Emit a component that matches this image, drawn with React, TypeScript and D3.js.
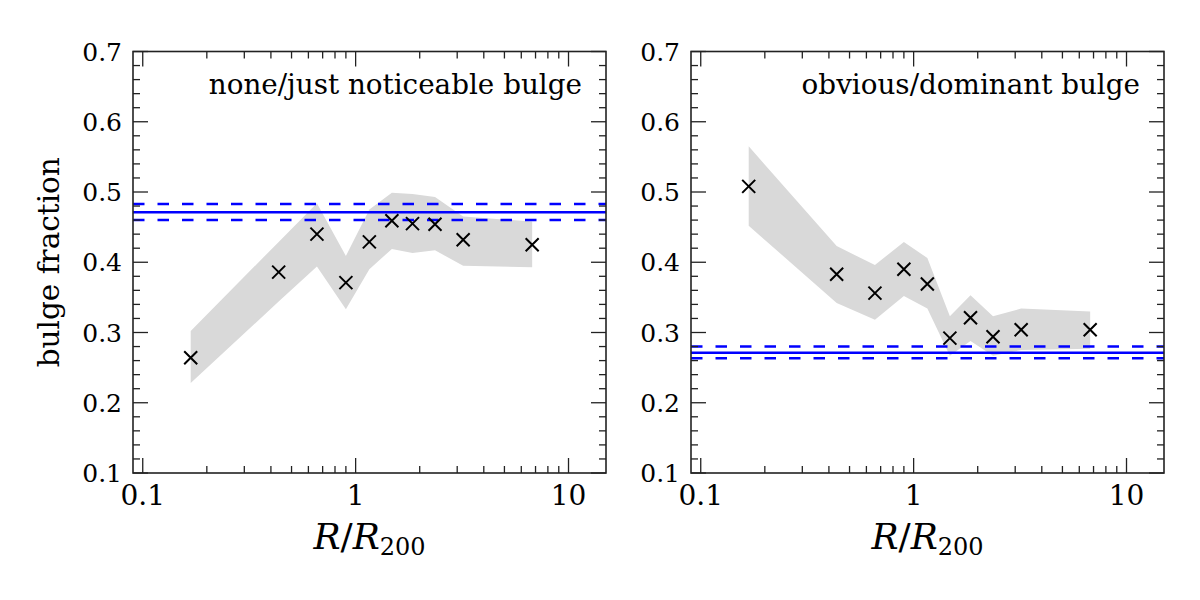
import React from "react";
import * as d3 from "d3";

// Radial bins (R / R200) shared by both panels
const binCentres = [0.168, 0.435, 0.658, 0.9, 1.16, 1.48, 1.85, 2.36, 3.2, 6.75];

// none / just noticeable bulge
const noneFrac = [0.264, 0.386, 0.44, 0.371, 0.429, 0.459, 0.455, 0.454, 0.432, 0.425];
const noneLow = [0.228, 0.344, 0.394, 0.333, 0.39, 0.419, 0.413, 0.417, 0.395, 0.393];
const noneHigh = [0.302, 0.429, 0.484, 0.409, 0.475, 0.499, 0.497, 0.493, 0.465, 0.458];
const noneOverall = [0.46, 0.471, 0.483]; // lower, mean, upper

// obvious / dominant bulge
const obvFrac = [0.508, 0.383, 0.356, 0.39, 0.369, 0.292, 0.321, 0.294, 0.304, 0.304];
const obvLow = [0.452, 0.342, 0.318, 0.352, 0.334, 0.267, 0.288, 0.267, 0.275, 0.277];
const obvHigh = [0.565, 0.423, 0.396, 0.429, 0.406, 0.323, 0.353, 0.323, 0.334, 0.33];
const obvOverall = [0.2635, 0.271, 0.28];

const panelTitles = ["none/just noticeable bulge", "obvious/dominant bulge"];
const xMajorTicks = [0.1, 1, 10];
const xMajorLabels = ["0.1", "1", "10"];
const yMajorTicks = [0.1, 0.2, 0.3, 0.4, 0.5, 0.6, 0.7];
const yMajorLabels = ["0.1", "0.2", "0.3", "0.4", "0.5", "0.6", "0.7"];

const xDomain: [number, number] = [0.09, 15];
const yDomain: [number, number] = [0.1, 0.7];

const W = 473;
const H = 421.5;
const TOP = 51.5;
const LEFTS = [133, 691];
const SERIF = "'DejaVu Serif', serif";
const AXIS = "#222";

const panels = [
  { frac: noneFrac, low: noneLow, high: noneHigh, overall: noneOverall, title: panelTitles[0] },
  { frac: obvFrac, low: obvLow, high: obvHigh, overall: obvOverall, title: panelTitles[1] },
];

function minorX(): number[] {
  const out: number[] = [];
  for (const dec of [0.1, 1, 10]) {
    for (let k = 2; k <= 9; k++) {
      const v = k * dec;
      if (v > xDomain[0] && v < xDomain[1]) out.push(v);
    }
  }
  return out;
}

function minorY(): number[] {
  const out: number[] = [];
  for (let i = 0; i <= 30; i++) {
    const v = +(0.1 + i * 0.02).toFixed(2);
    if (Math.abs((v * 10) - Math.round(v * 10)) > 1e-6) out.push(v);
  }
  return out;
}

function Panel({ p, left }: { p: (typeof panels)[number]; left: number }) {
  const x = d3.scaleLog().domain(xDomain).range([0, W]);
  const y = d3.scaleLinear().domain(yDomain).range([H, 0]);

  const band = d3
    .area<number>()
    .x((_, i) => x(binCentres[i]))
    .y0((_, i) => y(p.low[i]))
    .y1((d) => y(d));

  const MAJ = 15;
  const MIN = 7;
  const xm = minorX();
  const ym = minorY();

  return (
    <g transform={`translate(${left},${TOP})`}>
      <path d={band(p.high) ?? ""} fill="#d9d9d9" stroke="none" />

      {/* overall fraction with its uncertainty */}
      <line x1={0} x2={W} y1={y(p.overall[1])} y2={y(p.overall[1])} stroke="#0000ff" strokeWidth={2.5} />
      {[p.overall[0], p.overall[2]].map((v, i) => (
        <line key={i} x1={0} x2={W} y1={y(v)} y2={y(v)} stroke="#0000ff" strokeWidth={2.5} strokeDasharray="11.5 13" />
      ))}

      {p.frac.map((v, i) => {
        const cx = x(binCentres[i]);
        const cy = y(v);
        const s = 6.5;
        return (
          <path
            key={i}
            d={`M${cx - s},${cy - s}L${cx + s},${cy + s}M${cx - s},${cy + s}L${cx + s},${cy - s}`}
            stroke="#000"
            strokeWidth={2}
            fill="none"
          />
        );
      })}

      {/* ticks on all four sides, pointing inwards */}
      <g stroke={AXIS} strokeWidth={1.3}>
        {xMajorTicks.map((t) => (
          <g key={"xM" + t}>
            <line x1={x(t)} x2={x(t)} y1={H} y2={H - MAJ} />
            <line x1={x(t)} x2={x(t)} y1={0} y2={MAJ} />
          </g>
        ))}
        {xm.map((t) => (
          <g key={"xm" + t}>
            <line x1={x(t)} x2={x(t)} y1={H} y2={H - MIN} />
            <line x1={x(t)} x2={x(t)} y1={0} y2={MIN} />
          </g>
        ))}
        {yMajorTicks.map((t) => (
          <g key={"yM" + t}>
            <line x1={0} x2={MAJ} y1={y(t)} y2={y(t)} />
            <line x1={W} x2={W - MAJ} y1={y(t)} y2={y(t)} />
          </g>
        ))}
        {ym.map((t) => (
          <g key={"ym" + t}>
            <line x1={0} x2={MIN} y1={y(t)} y2={y(t)} />
            <line x1={W} x2={W - MIN} y1={y(t)} y2={y(t)} />
          </g>
        ))}
      </g>

      <rect x={0} y={0} width={W} height={H} fill="none" stroke={AXIS} strokeWidth={1.6} />

      {/* tick labels */}
      {xMajorTicks.map((t, i) => (
        <text key={"xl" + t} x={x(t)} y={H + 32} textAnchor="middle" fontFamily={SERIF} fontSize={28} fill="#000">
          {xMajorLabels[i]}
        </text>
      ))}
      {yMajorTicks.map((t, i) => (
        <text
          key={"yl" + t}
          x={-11}
          y={y(t)}
          dy="0.36em"
          textAnchor="end"
          fontFamily={SERIF}
          fontSize={25}
          fill="#000"
        >
          {yMajorLabels[i]}
        </text>
      ))}

      <text x={W - 24} y={42} textAnchor="end" fontFamily={SERIF} fontSize={27.8} fill="#000">
        {p.title}
      </text>

      <text x={W / 2} y={H + 76} textAnchor="middle" fontFamily={SERIF} fontSize={36} fill="#000">
        <tspan fontStyle="italic">R</tspan>
        <tspan>/</tspan>
        <tspan fontStyle="italic">R</tspan>
        <tspan fontSize={24} dy={6}>200</tspan>
      </text>
    </g>
  );
}

export default function App() {
  return (
    <svg
      width={1200}
      height={600}
      viewBox="0 0 1200 600"
      style={{ position: "absolute", left: 0, top: 0, background: "#fff", display: "block" }}
    >
      <rect width={1200} height={600} fill="#fff" />
      {panels.map((p, i) => (
        <Panel key={i} p={p} left={LEFTS[i]} />
      ))}
      <text
        transform={`translate(59,${TOP + H / 2}) rotate(-90)`}
        textAnchor="middle"
        fontFamily={SERIF}
        fontSize={29.5}
        fill="#000"
      >
        bulge fraction
      </text>
    </svg>
  );
}
